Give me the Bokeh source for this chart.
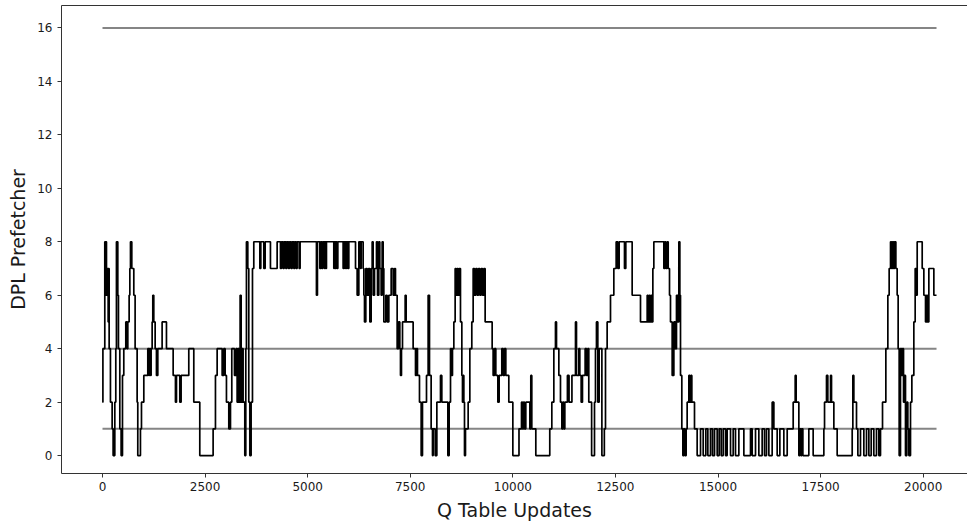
from bokeh.plotting import figure
from bokeh.models import Range1d, FixedTicker, LinearAxis
from bokeh.embed import file_html
from bokeh.resources import INLINE

# ---- data: change points (Q table update index) and prefetcher level after each change ----
seg_a_x = [0, 10, 56, 73, 89, 97, 113, 121, 138, 146, 162, 194, 235, 259, 300, 324, 340, 373, 389, 422,
           454, 487, 519, 568, 600, 617, 649, 666, 682, 714, 763, 795, 844, 860, 925, 950, 1007, 1104, 1129, 1145,
           1169, 1185, 1210, 1226, 1250, 1283, 1315, 1348, 1453, 1559, 1722, 1778, 1803, 1884, 1916, 2103, 2225, 2371, 2696, 2753,
           2794, 2916, 2956, 2989, 3021, 3078, 3119, 3151, 3216, 3257, 3281, 3305, 3330, 3354, 3379, 3403, 3427, 3468, 3492, 3508,
           3541, 3565, 3590, 3622, 3655]
seg_a_y = [2, 4, 8, 6, 8, 7, 6, 7, 5, 7, 4, 2, 1, 0, 2, 4, 8, 6, 4, 1,
           0, 3, 4, 5, 4, 5, 6, 7, 8, 7, 6, 4, 2, 0, 1, 2, 3, 4, 3, 4,
           3, 4, 5, 6, 5, 4, 3, 4, 5, 4, 3, 2, 3, 2, 3, 4, 2, 0, 1, 3,
           4, 3, 4, 3, 2, 1, 2, 4, 3, 4, 2, 4, 2, 6, 2, 4, 2, 0, 4, 8,
           7, 2, 0, 2, 7]

seg_b_x = [3687, 3834, 3858, 3931, 3964, 4093, 4256, 4337, 4361, 4402,
           4426, 4467, 4491, 4532, 4556, 4597, 4621, 4662, 4686, 4719,
           4743, 4792, 4816, 5214, 5238, 5296, 5320, 5344, 5368, 5409,
           5425, 5441, 5458, 5637, 5653, 5670, 5686, 5710, 5735, 5864,
           5880, 5905, 5921, 5946, 5962, 5986, 6003, 6166, 6206, 6247]
seg_b_y = [8, 7, 8, 7, 8, 7, 8, 7, 8, 7,
           8, 7, 8, 7, 8, 7, 8, 7, 8, 7,
           8, 7, 8, 6, 8, 7, 8, 7, 8, 7,
           8, 7, 8, 7, 8, 7, 8, 7, 8, 7,
           8, 7, 8, 7, 8, 7, 8, 7, 6, 8]

seg_c_x = [6287, 6304, 6352, 6369, 6385, 6417, 6450, 6482, 6515, 6547,
           6572, 6596, 6629, 6677, 6702, 6734, 6758, 6791, 6815, 6840,
           6856, 6905, 6937, 6978, 7035, 7083, 7116, 7140, 7181, 7213,
           7246, 7262, 7286, 7311, 7376, 7400, 7570, 7628, 7652, 7676,
           7725, 7766, 7798, 7896, 7936, 7969, 8009, 8042, 8058, 8107,
           8148, 8237, 8269, 8416, 8448, 8481, 8505, 8529, 8562, 8594,
           8619, 8643, 8667, 8692, 8724, 8757, 8773, 8789, 8806, 8822,
           8846, 8911, 8952, 9000, 9033, 9065, 9098, 9130, 9163, 9195,
           9228, 9260, 9293, 9325, 9496, 9520, 9553, 9585, 9634, 9666,
           9731, 9764, 9796, 9829, 9902, 10000, 10150, 10211, 10235, 10259,
           10284, 10316, 10414, 10438, 10462, 10560, 10900, 10950, 10999, 11039,
           11064, 11121, 11161, 11194, 11218, 11242, 11267, 11330, 11370, 11440,
           11527, 11551, 11608, 11632, 11665, 11697, 11762, 11795, 11827, 11851,
           11920, 11990, 12014, 12038, 12071, 12103, 12170, 12230, 12258, 12298,
           12380, 12461, 12518, 12558, 12591, 12721, 12753]
seg_c_y = [7, 8, 7, 6, 5, 7, 6, 7, 5, 7,
           8, 6, 7, 8, 6, 8, 7, 6, 8, 7,
           5, 6, 5, 6, 7, 6, 7, 6, 4, 5,
           4, 3, 4, 5, 6, 5, 4, 3, 4, 3,
           2, 0, 2, 3, 6, 3, 1, 0, 1, 0,
           2, 3, 2, 0, 2, 4, 3, 4, 5, 7,
           6, 7, 6, 7, 5, 3, 2, 3, 2, 0,
           1, 2, 4, 5, 7, 6, 7, 6, 7, 6,
           7, 6, 7, 5, 4, 3, 4, 3, 2, 3,
           4, 3, 4, 3, 2, 0, 1, 2, 1, 2,
           1, 2, 1, 3, 1, 0, 1, 2, 4, 5,
           4, 3, 2, 1, 2, 1, 2, 3, 2, 3,
           5, 3, 4, 3, 2, 3, 4, 3, 4, 2,
           0, 2, 4, 5, 2, 4, 0, 1, 4, 5,
           6, 7, 8, 7, 8, 7, 8]

seg_d_x = [12908, 13111, 13274, 13298, 13323, 13347, 13371, 13396, 13412, 13436,
           13680, 13704, 13729, 13761, 13786, 13818, 13842, 13883, 13924, 13956,
           13988, 14021, 14045, 14070, 14086, 14118, 14143, 14167, 14191, 14224,
           14248, 14289, 14314, 14338, 14362, 14427, 14492, 14574, 14639, 14703,
           14752, 14817, 14866, 14915, 14980, 15028, 15077, 15126, 15183, 15223,
           15305, 15370, 15426, 15508, 15630, 15792, 15833, 15914, 15995, 16076,
           16133, 16182, 16239, 16320, 16361, 16442, 16507, 16604, 16686, 16832,
           16881, 16905, 16970, 16995, 17019, 17043, 17068, 17213, 17319, 17579,
           17596, 17644, 17676, 17742, 17766, 17823, 17904, 18270, 18286, 18310,
           18375, 18408, 18472, 18554, 18619, 18676, 18733, 18797, 18862, 18919,
           18960, 19009, 19090, 19139, 19171, 19204, 19228, 19253, 19277, 19301,
           19334, 19366, 19390, 19415, 19447, 19472, 19496, 19521, 19545, 19569,
           19602, 19626, 19651, 19691, 19724, 19772, 19805, 19829, 19854, 19976,
           20016, 20057, 20081, 20106, 20138, 20260, 20325]
seg_d_y = [6, 5, 6, 5, 6, 5, 6, 5, 7, 8,
           7, 8, 7, 8, 7, 6, 5, 3, 5, 4,
           6, 5, 8, 6, 3, 1, 0, 1, 0, 1,
           2, 3, 2, 3, 2, 1, 0, 1, 0, 1,
           0, 1, 0, 1, 0, 1, 0, 1, 0, 1,
           0, 1, 0, 1, 0, 1, 0, 1, 0, 1,
           0, 1, 0, 2, 1, 0, 1, 0, 1, 2,
           3, 2, 0, 1, 0, 1, 0, 1, 0, 1,
           2, 3, 2, 3, 2, 1, 0, 1, 3, 2,
           1, 0, 1, 0, 1, 0, 1, 0, 1, 0,
           1, 2, 4, 6, 7, 8, 7, 8, 7, 8,
           7, 6, 4, 0, 4, 3, 4, 2, 3, 0,
           2, 1, 0, 2, 3, 5, 7, 6, 8, 7,
           6, 5, 6, 5, 7, 6, 6]

reference_levels = [16, 4, 1]

x_ticks = [0, 2500, 5000, 7500, 10000, 12500, 15000, 17500, 20000]
y_ticks = [0, 2, 4, 6, 8, 10, 12, 14, 16]

updates = seg_a_x + seg_b_x + seg_c_x + seg_d_x
levels = seg_a_y + seg_b_y + seg_c_y + seg_d_y
assert len(updates) == len(levels), (len(updates), len(levels))

FONT = "DejaVu Sans"
TXT = "#1a1a1a"

p = figure(width=967, height=527, output_backend="svg", toolbar_location=None,
           x_range=Range1d(-999, 21080), y_range=Range1d(-0.67, 16.84),
           min_border_left=61, min_border_right=0, min_border_top=5, min_border_bottom=54)
p.grid.visible = False
p.outline_line_color = None
p.background_fill_color = "white"
p.border_fill_color = "white"

# reference levels
n = len(reference_levels)
p.segment(x0=[updates[0]] * n, x1=[updates[-1]] * n, y0=reference_levels, y1=reference_levels,
          line_color="#858585", line_width=2)

# prefetcher level
p.step(updates, levels, mode="after", line_color="black", line_width=1.7)

for ax in (p.xaxis[0], p.yaxis[0]):
    ax.axis_line_color = "#333333"
    ax.axis_line_width = 1
    ax.major_tick_line_color = "#333333"
    ax.major_tick_out = 4
    ax.major_tick_in = 0
    ax.minor_tick_line_color = None
    ax.major_label_text_font = FONT
    ax.major_label_text_font_size = "12px"
    ax.major_label_text_color = TXT
    ax.axis_label_text_font = FONT
    ax.axis_label_text_font_size = "19px"
    ax.axis_label_text_font_style = "normal"
    ax.axis_label_text_color = TXT

p.xaxis[0].ticker = FixedTicker(ticks=x_ticks)
p.yaxis[0].ticker = FixedTicker(ticks=y_ticks)
p.xaxis[0].axis_label = "Q Table Updates"
p.yaxis[0].axis_label = "DPL Prefetcher"
p.xaxis[0].major_label_standoff = 4
p.xaxis[0].axis_label_standoff = 5
p.yaxis[0].major_label_standoff = 5
p.yaxis[0].axis_label_standoff = 5

top = LinearAxis(ticker=FixedTicker(ticks=[]), major_tick_line_color=None, minor_tick_line_color=None,
                 major_label_text_font_size="0px", axis_line_color="#333333", axis_line_width=1,
                 major_label_standoff=0)
p.add_layout(top, "above")

open("out.html", "w").write(file_html(p, INLINE))
